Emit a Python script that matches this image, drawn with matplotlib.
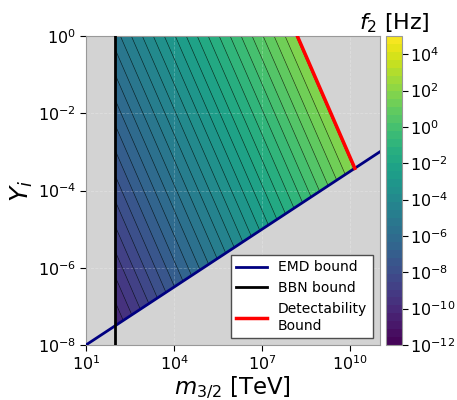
import numpy as np
import matplotlib
matplotlib.use("Agg")
import matplotlib.pyplot as plt
from matplotlib import ticker
from matplotlib.colors import LogNorm

# axis ranges
m_lim = [1e1, 1e11]      # m_3/2 in TeV
Y_lim = [1e-8, 1e0]      # initial abundance Y_i

# bounds
m_bbn = 1e2              # BBN bound, vertical line [TeV]
emd_norm = 10 ** -8.5    # EMD bound: Y = emd_norm * m**emd_slope
emd_slope = 0.5
f_det = 1e2              # detectability bound on f_2 [Hz]

# f_2 = f2_norm * m**f2_m_exp * Y**f2_Y_exp
f2_norm = 10 ** -7.56
f2_m_exp = 7.0 / 6.0
f2_Y_exp = 2.0 / 3.0

levels = np.logspace(-12, 5, 40)

x_ticks = [1e1, 1e4, 1e7, 1e10]
y_ticks = [1e-8, 1e-6, 1e-4, 1e-2, 1e0]
cbar_ticks = [1e-12, 1e-10, 1e-8, 1e-6, 1e-4, 1e-2, 1e0, 1e2, 1e4]

fig = plt.figure(figsize=(4.57, 4.0), dpi=100)
ax = fig.add_axes([0.188, 0.1375, 0.643, 0.7725])
cax = fig.add_axes([0.845, 0.1375, 0.035, 0.7725])
ax.set_facecolor('lightgrey')

# grid of the frequency, masked outside the allowed region
m = np.logspace(np.log10(m_lim[0]), np.log10(m_lim[1]), 700)
Y = np.logspace(np.log10(Y_lim[0]), np.log10(Y_lim[1]), 700)
M, YY = np.meshgrid(m, Y)
F = f2_norm * M ** f2_m_exp * YY ** f2_Y_exp
ok = (M >= m_bbn) & (YY >= emd_norm * M ** emd_slope) & (F <= f_det)
F = np.ma.masked_where(~ok, F)

norm = LogNorm(vmin=levels[0], vmax=levels[-1])
cs = ax.contourf(M, YY, F, levels=levels, norm=norm, cmap='viridis')
ax.contour(M, YY, F, levels=levels, colors='k', linewidths=0.45, alpha=0.75)

# bounds
ax.plot(m, emd_norm * m ** emd_slope, color='navy', lw=2, label='EMD bound', zorder=4)
ax.axvline(m_bbn, color='k', lw=2, label='BBN bound', zorder=4)

m_top = (f_det / f2_norm) ** (1 / f2_m_exp)
m_bot = (f_det / (f2_norm * emd_norm ** f2_Y_exp)) ** (1 / (f2_m_exp + emd_slope * f2_Y_exp))
m_red = np.logspace(np.log10(m_top), np.log10(m_bot), 50)
Y_red = (f_det / (f2_norm * m_red ** f2_m_exp)) ** (1 / f2_Y_exp)
ax.plot(m_red, Y_red, color='red', lw=2.5, label='Detectability\nBound', zorder=4)

ax.set_xscale('log')
ax.set_yscale('log')
ax.set_xlim(m_lim)
ax.set_ylim(Y_lim)
ax.set_xticks(x_ticks)
ax.set_yticks(y_ticks)
ax.xaxis.set_minor_locator(ticker.NullLocator())
ax.yaxis.set_minor_locator(ticker.NullLocator())
ax.tick_params(labelsize=11.5, length=4, pad=3)
ax.grid(True, color='w', alpha=0.25, ls='--', lw=0.6)
for sp in ax.spines.values():
    sp.set_color('0.6')

ax.set_xlabel('$m_{3/2}$ [TeV]', fontsize=16.5, labelpad=1)
ax.set_ylabel('$Y_i$', fontsize=18, labelpad=2)

leg = ax.legend(loc='lower right', fontsize=10, fancybox=False, framealpha=1,
                edgecolor='0.3', borderaxespad=0.5, handlelength=2.2)
leg.get_frame().set_linewidth(1.0)

cb = fig.colorbar(cs, cax=cax, ticks=cbar_ticks)
cax.yaxis.set_minor_locator(ticker.NullLocator())
cax.tick_params(labelsize=11.5, length=4, pad=2)
cb.outline.set_edgecolor('0.6')
cax.set_title('$f_2$ [Hz]', fontsize=16, pad=5)

fig.savefig('out.png', dpi=100)
